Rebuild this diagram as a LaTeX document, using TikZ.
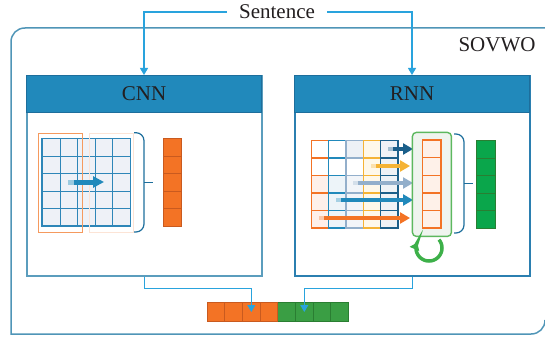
\documentclass[tikz,border=0pt]{standalone}
\usepackage{fontspec}
\setmainfont{Liberation Serif}
\usetikzlibrary{arrows.meta,calc}
\definecolor{hdr}{HTML}{2189BB}
\definecolor{hdrdark}{HTML}{1D6E9C}
\definecolor{connc}{HTML}{29A3DD}
\definecolor{boxb}{HTML}{5B9DBD}
\definecolor{boxr}{HTML}{2B7FB0}
\definecolor{outerb}{HTML}{4F95B7}
\definecolor{gridb}{HTML}{2E86B8}
\definecolor{cellf}{HTML}{EEF1F7}
\definecolor{org}{HTML}{F37325}
\definecolor{orgd}{HTML}{C95A1F}
\definecolor{orgl}{HTML}{F59A5E}
\definecolor{peach}{HTML}{FCE4D6}
\definecolor{grn}{HTML}{3A9E44}
\definecolor{grnd}{HTML}{2A7E32}
\definecolor{grnb}{HTML}{0AA64B}
\definecolor{dblue}{HTML}{1B5F8A}
\definecolor{ylw}{HTML}{F5B335}
\definecolor{gblue}{HTML}{93AFCB}
\definecolor{loopc}{HTML}{3DB049}
\definecolor{gbox}{HTML}{5DB85F}
\definecolor{cellbg}{HTML}{EFF4EF}
\definecolor{txt}{HTML}{231F20}
\tikzset{
  conn/.style={draw=connc, line width=1.1pt, -{Triangle[length=7pt,width=8pt]}},
  hdrbox/.style={draw=hdrdark, fill=hdr, line width=1pt, minimum width=235pt, minimum height=37pt, anchor=north west, inner sep=0pt},
  mainbox/.style={line width=1.5pt, minimum width=235pt, minimum height=200pt, anchor=north west, inner sep=0pt},
  lbl/.style={text=txt, font=\fontsize{21}{24}\selectfont, inner sep=0pt},
  ocell/.style={draw=orgd, fill=org, line width=1pt, minimum width=17.65pt, minimum height=19pt, inner sep=0pt},
  gcell/.style={draw=grnd, fill=grn, line width=1pt, minimum width=17.65pt, minimum height=19pt, inner sep=0pt},
  brace/.style={draw=hdrdark, line width=1.2pt, rounded corners=8pt},
}
\begin{document}
\begin{tikzpicture}[x=1pt,y=-1pt]
\useasboundingbox (0,0) rectangle (545,339);
\clip (0,0) rectangle (545,339);
% outer box
\draw[outerb, line width=1.5pt] (560,28) -- (25,28) .. controls (17,28) and (11,34) .. (11,42) -- (11,334) -- (531,334) .. controls (539,334) and (545,328) .. (545,320);
\node[lbl] (sovwo) at (497,45) {SOVWO};
% main boxes
\node[mainbox, draw=boxb] (cnnbox) at (26,75) {};
\node[mainbox, draw=boxr] (rnnbox) at (294,75) {};
\node[hdrbox] (cnnhead) at (26,75) {};
\node[lbl] (cnnlbl) at (cnnhead.center) {CNN};
\node[hdrbox] (rnnhead) at (294,75) {};
\node[lbl] (rnnlbl) at (rnnhead.center) {RNN};
% sentence
\node[lbl, inner xsep=12pt] (sent) at (277,12) {Sentence};
\draw[conn] (sent.west) -| (cnnhead.north);
\draw[conn] (sent.east) -| (rnnhead.north);
% ---------- CNN content
\foreach \r in {0,...,4}{
  \foreach \c in {0,...,4}{
    \node[draw=gridb, fill=cellf, line width=1pt, minimum width=17.5pt, minimum height=17.4pt, inner sep=0pt, anchor=north west] (cg\r\c) at (42+17.5*\c,138.3+17.4*\r) {};
  }}
\draw[gridb, line width=1.5pt] (cg00.north west) rectangle (cg44.south east);
\node[draw=peach, line width=1.2pt, minimum width=44pt, minimum height=99pt, anchor=north west, inner sep=0pt] (filt2) at (89,132.7) {};
\node[draw=orgl, line width=1.2pt, minimum width=44pt, minimum height=99pt, anchor=north west, inner sep=0pt] (filt1) at (37.7,132.7) {};
\draw[hdr!45, line width=5pt] (68,182) -- (75,182);
\draw[hdr, line width=5pt, -{Triangle[length=11pt,width=11pt]}] (74,182) -- (104,182);
\draw[brace] (134,132.7) -| (144,182.5) |- (134,232);
\draw[hdrdark, line width=1.2pt] (144,182.5) -- (153,182.5);
\foreach \r in {0,...,4}{
  \node[draw=orgd, fill=org, line width=1pt, minimum width=18pt, minimum height=17.5pt, inner sep=0pt, anchor=north west] (cv\r) at (162.7,138.3+17.5*\r) {};
}
% ---------- RNN content
\foreach \c/\bc/\fa/\fb/\fc in {0/org/FFFFFF/FFFFFF/FEF0EA, 1/hdr/FFFFFF/FFFFFF/EDF4F9, 2/gblue/EDF1F6/FFFFFF/F2F5F9, 3/ylw/FEF8EA/FEF8EA/FEF8EA, 4/dblue/EEF2F6/EEF2F6/EEF2F6}{
  \foreach \r in {0,...,4}{
    \ifnum\r=0 \definecolor{cf}{HTML}{\fa}\else\ifnum\r=1 \definecolor{cf}{HTML}{\fb}\else\definecolor{cf}{HTML}{\fc}\fi\fi
    \node[draw=\bc, fill=cf, line width=1.4pt, minimum width=17.3pt, minimum height=17.45pt, inner sep=0pt, anchor=north west] (rg\r\c) at (310.7+17.3*\c,140+17.45*\r) {};
  }}
% feed arrows
\foreach \y/\xs/\xe/\cl in {149/388/413/dblue, 166/371/410/ylw, 183/353/413/gblue, 200/336/413/hdr, 218/319/410/org}{
  \draw[\cl!40, line width=4.5pt] (\xs,\y) -- (\xs+6,\y);
  \draw[\cl, line width=4.5pt, -{Triangle[length=10pt,width=11pt]}] (\xs+5,\y) -- (\xe,\y);
}
% recurrent cell
\node[draw=gbox, fill=cellbg, line width=1.4pt, rounded corners=4pt, minimum width=39pt, minimum height=104pt, anchor=north west, inner sep=0pt] (rcell) at (411.7,131.7) {};
\foreach \r in {0,...,4}{
  \node[draw=org, fill=org!10, line width=1.5pt, minimum width=18.3pt, minimum height=17.6pt, inner sep=0pt, anchor=north west] (rc\r) at (421.7,139.3+17.6*\r) {};
}
\draw[loopc, line width=3.5pt, -{Triangle[length=7pt,width=10pt]}] plot[domain=-40:205, samples=50, smooth] ({429+13*cos(\x)},{248+13*sin(\x)});
\draw[brace] (454,134) -| (464,183.3) |- (454,233);
\draw[hdrdark, line width=1.2pt] (464,183.3) -- (473,183.3);
\foreach \r in {0,...,4}{
  \node[draw=grnd, fill=grnb, line width=1pt, minimum width=19pt, minimum height=17.5pt, inner sep=0pt, anchor=north west] (gv\r) at (476,140+17.5*\r) {};
}
% ---------- bottom vector
\foreach \i in {1,...,4}{
  \node[ocell, anchor=north west] (o\i) at (206.7+17.65*\i-17.65,302) {};
  \node[gcell, anchor=north west] (g\i) at (277.3+17.65*\i-17.65,302) {};
}
\draw[conn] (cnnbox.south) -- ++(0,12) -| (o3.center);
\draw[conn] (rnnbox.south) -- ++(0,12) -| (g2.center);
\end{tikzpicture}
\end{document}
